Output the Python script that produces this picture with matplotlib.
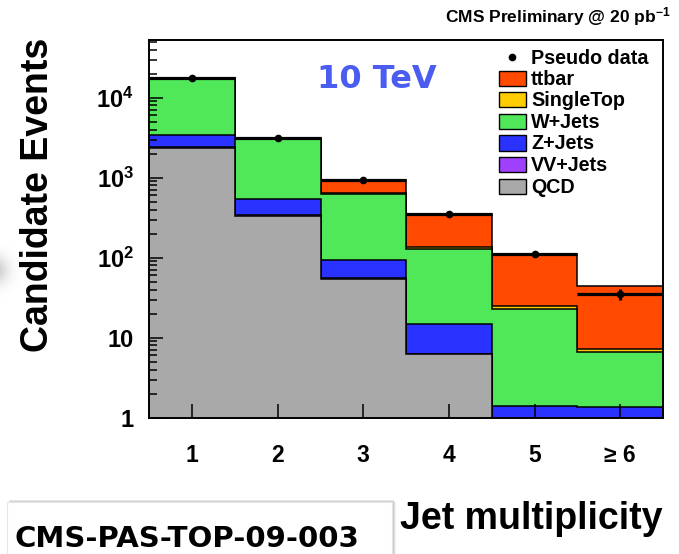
import numpy as np
import matplotlib
matplotlib.use("Agg")
import matplotlib.pyplot as plt
from matplotlib.patches import Rectangle
from matplotlib.ticker import LogLocator, NullFormatter

# ---- data: events per jet-multiplicity bin ----
categories = ["1", "2", "3", "4", "5", "\u2265 6"]
qcd = [2371, 335, 53.7, 6.2, 0, 0]
vv_jets = [15, 6, 2, 0.1, 0.3, 0.15]
z_jets = [1000, 196, 38.7, 8.5, 1.1, 1.2]
w_jets = [14100, 2480, 526, 112, 21.2, 5.3]
single_top = [20, 32, 18, 10, 2.3, 0.54]
ttbar = [25, 110, 298, 212, 85, 37]
pseudo_data = [17800, 3160, 936, 349, 112, 35.2]

samples = ["QCD", "VV+Jets", "Z+Jets", "W+Jets", "SingleTop", "ttbar"]
colors = {"QCD": "#a9a9a9", "VV+Jets": "#a040ff", "Z+Jets": "#2a32ff",
          "W+Jets": "#50e858", "SingleTop": "#ffcc00", "ttbar": "#ff4a00"}

plt.rcParams["font.family"] = ["Liberation Sans", "DejaVu Sans"]
plt.rcParams["mathtext.fontset"] = "custom"
plt.rcParams["mathtext.rm"] = "Liberation Sans"
plt.rcParams["mathtext.bf"] = "Liberation Sans:bold"
plt.rcParams["mathtext.default"] = "bf"

W, H = 679, 554
fig = plt.figure(figsize=(W / 100, H / 100), dpi=100)


def P(x, y):
    """pixel position (from top-left) -> figure fraction"""
    return x / W, 1 - y / H


ax_l, ax_r, ax_t, ax_b = 149.3, 663.0, 40.0, 417.7
ax = fig.add_axes([ax_l / W, 1 - ax_b / H, (ax_r - ax_l) / W, (ax_b - ax_t) / H])

n = len(categories)
edges = np.arange(n + 1) + 0.5
centers = np.arange(1, n + 1)
floor = 1e-3

stack = np.cumsum(np.array([qcd, vv_jets, z_jets, w_jets, single_top, ttbar], float), axis=0)
# draw the cumulative histograms from the top down so lower ones sit in front
for i in reversed(range(len(samples))):
    ax.stairs(np.maximum(stack[i], floor), edges, baseline=floor, fill=True,
              facecolor=colors[samples[i]], edgecolor="black", linewidth=1.1)

data = np.array(pseudo_data)
ax.errorbar(centers, data, xerr=0.5, yerr=np.sqrt(data), fmt="o", color="black",
            ms=4.5, elinewidth=2.3, capsize=0, zorder=5)

ax.set_yscale("log")
ax.set_ylim(1, 10 ** ((ax_b - ax_t) / 80.0))
ax.set_xlim(0.5, n + 0.5)

ax.set_yticks([1, 10, 100, 1000, 10000])
ax.set_yticklabels(["1", "10", r"$10^{2}$", r"$10^{3}$", r"$10^{4}$"])
ax.yaxis.set_minor_locator(LogLocator(base=10, subs=np.arange(2, 10), numticks=20))
ax.yaxis.set_minor_formatter(NullFormatter())
ax.set_xticks(centers)
ax.set_xticklabels(categories)

ax.tick_params(axis="both", which="both", direction="in", top=False, right=False)
ax.tick_params(axis="y", which="major", length=10, width=1.1, pad=11, labelsize=17)
ax.tick_params(axis="y", which="minor", length=5.5, width=1.1)
ax.tick_params(axis="x", which="major", length=10, width=1.1, pad=19, labelsize=16.5)
for lab in ax.get_xticklabels() + ax.get_yticklabels():
    lab.set_fontweight("bold")
for sp in ax.spines.values():
    sp.set_linewidth(1.4)
    sp.set_zorder(10)

# axis titles and header
fig.text(*P(38, 195), "Candidate Events", rotation=90, ha="center", va="center",
         fontsize=27, fontweight="bold")
fig.text(*P(663, 529), "Jet multiplicity", ha="right", va="baseline",
         fontsize=27, fontweight="bold")
fig.text(*P(671, 22), r"CMS Preliminary @ 20 pb$^{-1}$", ha="right", va="baseline",
         fontsize=12.5, fontweight="bold")

fig.text(*P(317, 79), "10 TeV", ha="left", va="center", fontsize=23,
         fontweight="bold", color="#4b5cf0", family="DejaVu Sans")

# legend
leg_rows = [("ttbar", 78.5), ("SingleTop", 99.2), ("W+Jets", 121.7),
            ("Z+Jets", 143.0), ("VV+Jets", 164.7), ("QCD", 186.7)]
fig.add_artist(plt.Line2D([512 / W], [1 - 57 / H], marker="o", ms=4.5, color="black",
                          transform=fig.transFigure))
fig.text(*P(531, 58.5), "Pseudo data", ha="left", va="center", fontsize=14.2, fontweight="bold")
for name, yc in leg_rows:
    x0, y0 = P(499, yc + 7.5)
    fig.add_artist(Rectangle((x0, y0), 27 / W, 15 / H, transform=fig.transFigure,
                             facecolor=colors[name], edgecolor="black", linewidth=1.0))
    fig.text(*P(531, yc + 1), name, ha="left", va="center", fontsize=14.2, fontweight="bold")

# document reference box with a soft shadow
for k, a in enumerate([0.05, 0.07, 0.1]):
    d = 4 - k
    x0, y0 = P(7 + d, 554)
    fig.add_artist(Rectangle((x0, y0), (385) / W, (52 - d + 4) / H, transform=fig.transFigure,
                             facecolor="black", alpha=a, edgecolor="none"))
x0, y0 = P(6.7, 556)
fig.add_artist(Rectangle((x0, y0), 385 / W, 54.3 / H, transform=fig.transFigure,
                         facecolor="white", edgecolor="#e6e6e6", linewidth=0.8))
fig.text(*P(15, 547), "CMS-PAS-TOP-09-003", ha="left", va="baseline", fontsize=21,
         family="DejaVu Sans", fontweight="bold", color="black")

# faint round shadow at the left edge
blob_ax = fig.add_axes([0, 1 - 300 / H, 20 / W, 60 / H])
yy, xx = np.mgrid[0:60, 0:20]
r2 = ((xx + 6) ** 2 + (yy - 30) ** 2) / 14.0 ** 2
rgba = np.zeros((60, 20, 4))
rgba[..., :3] = 0.55
rgba[..., 3] = 0.45 * np.exp(-r2)
blob_ax.imshow(rgba, aspect="auto", interpolation="bilinear")
blob_ax.axis("off")

fig.savefig("out.png", dpi=100)
